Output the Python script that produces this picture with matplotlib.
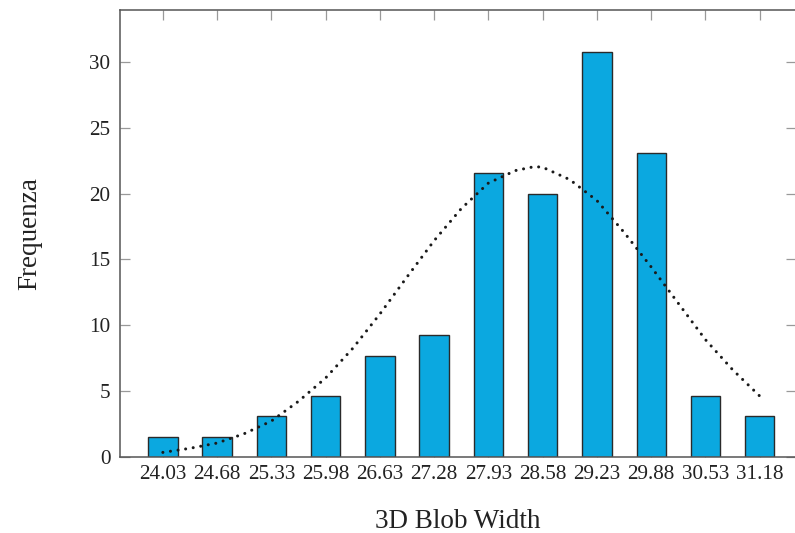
import matplotlib
matplotlib.use("Agg")
import matplotlib.pyplot as plt
import numpy as np

categories = ["24.03", "24.68", "25.33", "25.98", "26.63", "27.28",
              "27.93", "28.58", "29.23", "29.88", "30.53", "31.18"]
frequencies = [1.54, 1.54, 3.08, 4.62, 7.69, 9.23,
               21.54, 20.0, 30.77, 23.08, 4.62, 3.08]
# fitted curve read at every half category step
curve_pos = [0, 0.5, 1, 1.5, 2, 2.5, 3, 3.5, 4, 4.5, 5, 5.5,
             6, 6.5, 6.85, 7, 7.5, 8, 8.5, 9, 9.5, 10, 10.5, 11]
curve_val = [0.35, 0.66, 1.06, 1.77, 2.73, 4.23, 6.0, 8.25, 10.86, 13.67, 16.43, 18.86,
             20.8, 21.75, 22.05, 22.0, 21.06, 19.47, 17.06, 14.43, 11.67, 8.91, 6.63, 4.63]
y_ticks = [0, 5, 10, 15, 20, 25, 30]

plt.rcParams['font.family'] = ['Liberation Serif', 'DejaVu Serif']

fig = plt.figure(figsize=(7.95, 5.33), dpi=100)
ax = fig.add_axes([120/795, (533-457)/533, 675.5/795, 447/533])

x = np.arange(len(categories))
ax.bar(x, frequencies, width=0.54, color='#0BA8E0', edgecolor='#2a2a2a',
       linewidth=1.0, zorder=2)
ax.plot(curve_pos, curve_val, color='#1a1a1a', linestyle=(0, (0.01, 2.5)),
        linewidth=2.2, dash_capstyle='round', solid_capstyle='round', zorder=3)

ax.set_xlim(-0.79, 11.66)
ax.set_ylim(0, 33.94)
ax.set_xticks(x)
ax.set_xticklabels(categories)
ax.set_yticks(y_ticks)

for s in ax.spines.values():
    s.set_color('#555555')
    s.set_linewidth(1.1)

ax.tick_params(axis='both', direction='in', length=7, width=0.9, color='#999999',
               labelsize=15.2, labelcolor='#222222', top=True, right=True, pad=7)
ax.tick_params(axis='x', pad=6)

ax.set_xlabel('3D Blob Width', fontsize=19.5, color='#222222', labelpad=18)
ax.set_ylabel('Frequenza', fontsize=19.5, color='#222222', labelpad=34)

fig.savefig('out.png', dpi=100)
